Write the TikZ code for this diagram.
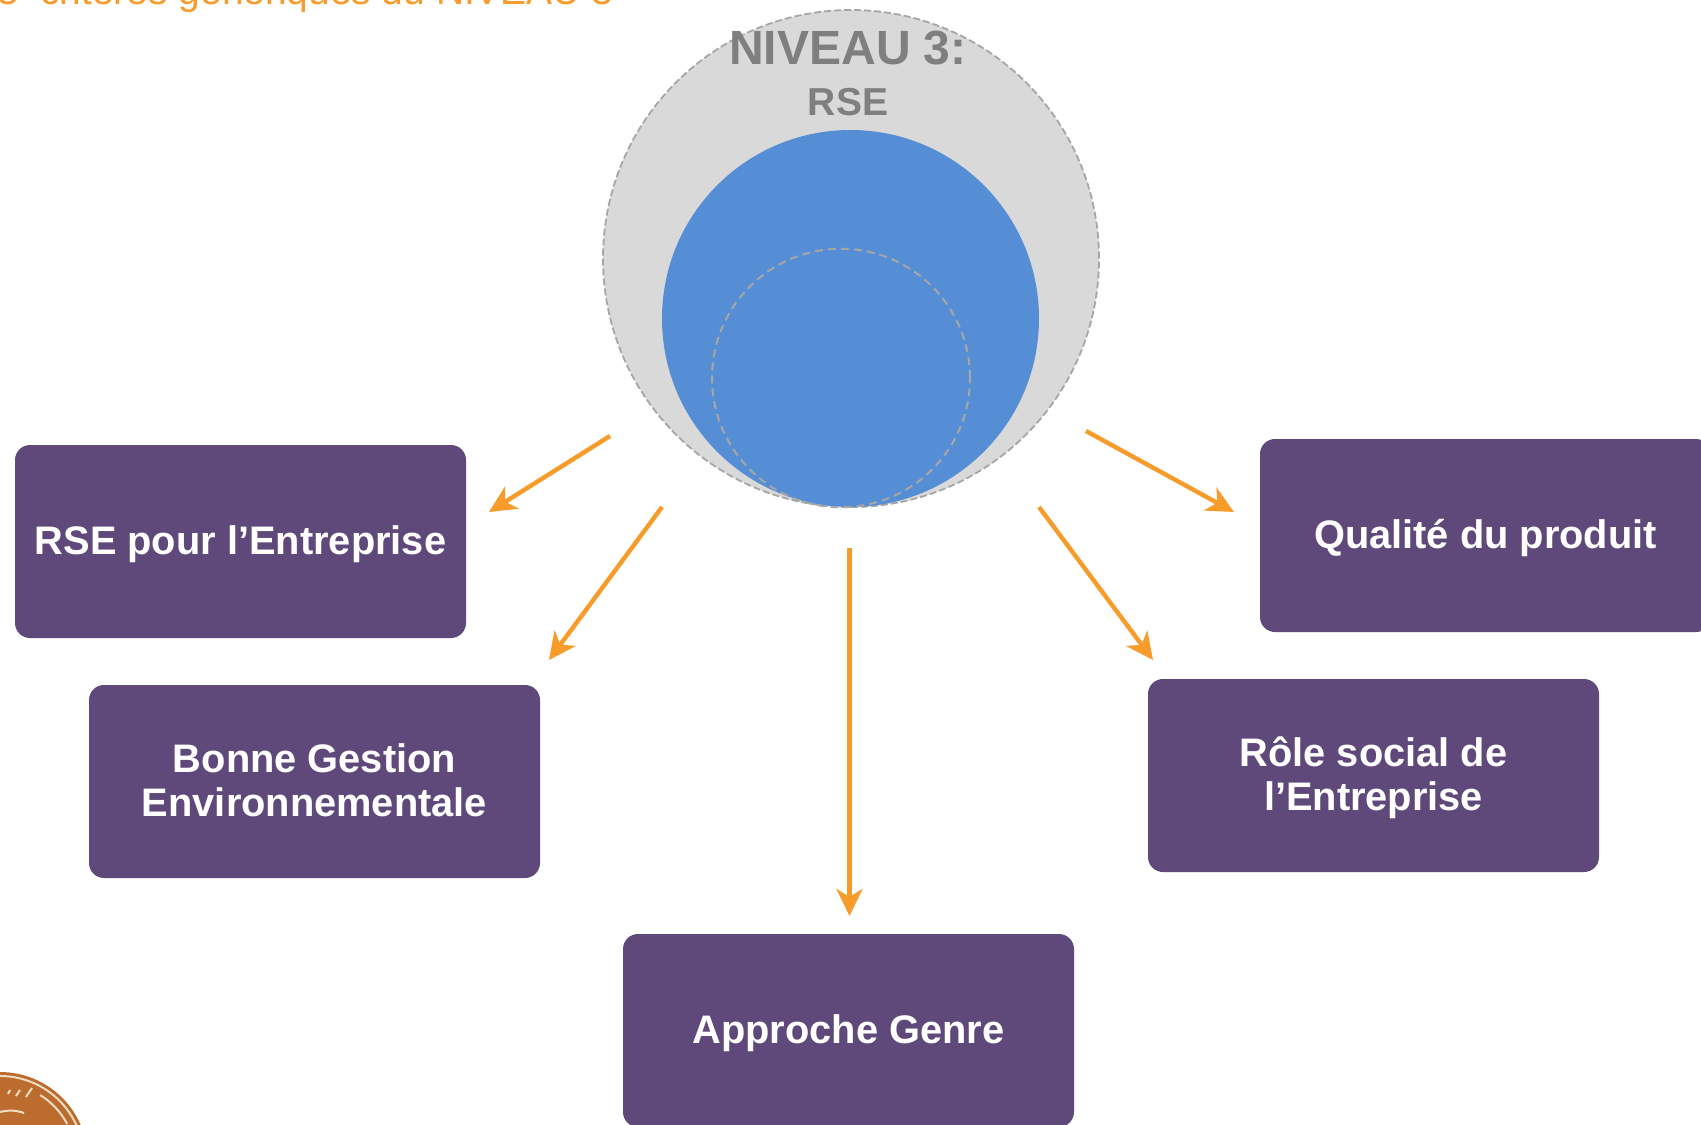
\documentclass[tikz,border=0pt]{standalone}
\usepackage{fontspec}
\setmainfont{Liberation Sans}
\usetikzlibrary{arrows.meta,shapes.geometric}
\definecolor{boxpurple}{HTML}{5F497A}
\definecolor{arroworange}{HTML}{F79B2B}
\definecolor{discblue}{HTML}{558ED5}
\definecolor{discgray}{HTML}{D9D9D9}
\definecolor{dashgray}{HTML}{A6A6A6}
\definecolor{labelgray}{HTML}{7F7F7F}
\definecolor{sealbrown}{HTML}{BC6C2E}
\definecolor{sealcream}{HTML}{F0DCC0}
\tikzset{
  critbox/.style={draw=none,fill=boxpurple,rounded corners=15pt,minimum width=451pt,minimum height=193pt,
    inner sep=0pt,align=center,text=white,font=\fontsize{39.8}{44}\selectfont\bfseries,text height=30pt,text depth=5pt},
  flow/.style={draw=arroworange,line width=4.4pt,-{Stealth[length=27pt,width=26pt,inset=8pt]}},
  disc/.style={ellipse,inner sep=0pt},
  sealline/.style={draw=sealcream,line width=2pt},
}
\begin{document}
\begin{tikzpicture}[x=1pt,y=-1pt]
\useasboundingbox (0,0) rectangle (1701,1125);
\clip (0,0) rectangle (1701,1125);
\fill[white] (0,0) rectangle (1701,1125);
% heading cut by the top edge
\node[anchor=base west,inner sep=0pt,text=arroworange,font=\fontsize{38.9}{44}\selectfont] (heading) at (-3,4) {5 \ critères génériques du NIVEAU 3};
% discs
\node[disc,fill=discgray,draw=dashgray,line width=1.8pt,dash pattern=on 7pt off 3pt,minimum width=496pt,minimum height=497pt] (outer) at (851,258.5) {};
\node[disc,fill=discblue,minimum width=377pt,minimum height=377pt] (blue) at (850.5,318.5) {};
\node[disc,draw=dashgray,line width=2pt,dash pattern=on 8pt off 5pt,minimum width=258pt,minimum height=258.5pt] (inner) at (841,378) {};
\node[anchor=base,inner sep=0pt,text=labelgray,font=\fontsize{48}{50}\selectfont\bfseries] (niveau) at (848,64) {NIVEAU 3:};
\node[anchor=base,inner sep=0pt,text=labelgray,font=\fontsize{39}{44}\selectfont\bfseries] (rse) at (848,115) {RSE};
% boxes
\node[critbox] (b1) at (240.5,541.5) {RSE pour l’Entreprise};
\node[critbox,text height=70pt,text depth=0.8pt] (b2) at (314.5,781.5) {Bonne Gestion\\Environnementale};
\node[critbox] (b3) at (848.5,1030.5) {Approche Genre};
\node[critbox,text height=70pt,text depth=1pt] (b4) at (1373.5,775.5) {Rôle social de\\l’Entreprise};
\node[critbox] (b5) at (1485.5,535.5) {Qualité du produit};
% arrow ends
\coordinate (a1s) at (610,436); \coordinate (a1e) at (489,512);
\coordinate (a2s) at (662,507); \coordinate (a2e) at (549,660);
\coordinate (a3s) at (849.5,548); \coordinate (a3e) at (849.5,916);
\coordinate (a4s) at (1039,507); \coordinate (a4e) at (1153,660);
\coordinate (a5s) at (1086,431); \coordinate (a5e) at (1234,512);
\draw[flow] (a1s) -- (a1e);
\draw[flow] (a2s) -- (a2e);
\draw[flow] (a3s) -- (a3e);
\draw[flow] (a4s) -- (a4e);
\draw[flow] (a5s) -- (a5e);
% seal, cut by the corner of the page
\fill[sealbrown] (0,1160) circle (88);
\draw[sealline] (0,1160) circle (84);
\draw[sealline] (40.2,1095) arc[start angle=-58,end angle=-28,radius=76.5];
\draw[sealline] (0,1112) .. controls (8,1110) and (16,1110) .. (24,1113);
\draw[sealline] (8,1094) -- (10,1090) (16,1096) -- (20,1090) (26,1097) -- (32,1088);
\end{tikzpicture}
\end{document}
